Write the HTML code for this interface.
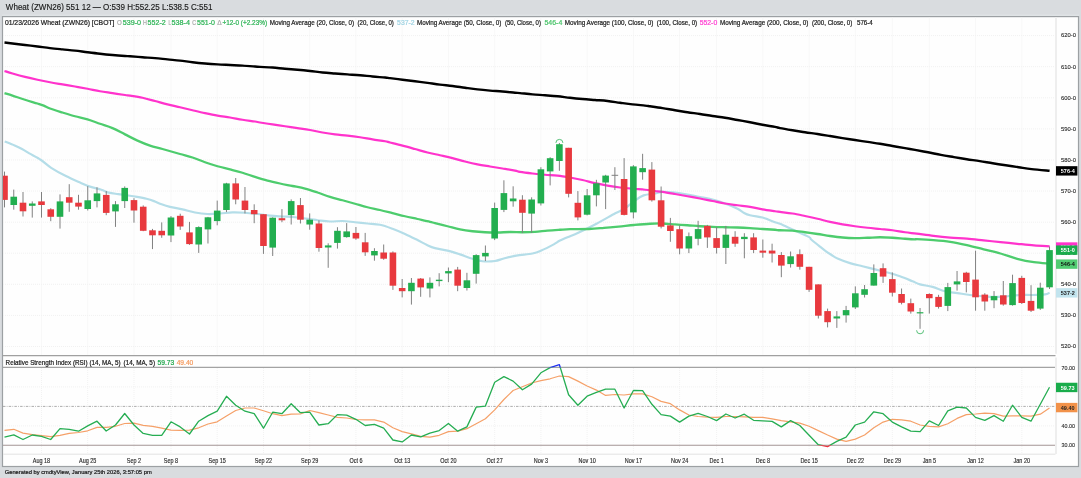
<!DOCTYPE html><html><head><meta charset="utf-8"><style>html,body{margin:0;padding:0;width:1081px;height:478px;overflow:hidden;background:#d9dcdf}svg text{font-family:"Liberation Sans",sans-serif} svg{will-change:transform}</style></head><body><svg width="1081" height="478" viewBox="0 0 1081 478" style="position:absolute;left:0;top:0"><rect x="0" y="0" width="1081" height="478" fill="#d9dcdf"/><text x="5.85" y="10.3" font-size="8.3" fill="#1a1a1a" stroke="#1a1a1a" stroke-width="0.15" textLength="206.6" lengthAdjust="spacingAndGlyphs">Wheat (ZWN26) 551 12 — O:539 H:552.25 L:538.5 C:551</text><line x1="2" y1="15.2" x2="1079" y2="15.2" stroke="#e3e6e8" stroke-width="1"/><rect x="2.5" y="16.6" width="1076" height="449.9" fill="#fefefe" stroke="#9ca0a3" stroke-width="1.2"/><line x1="3" y1="35.6" x2="1055" y2="35.6" stroke="#f1f1f1" stroke-width="1" stroke-dasharray="1,1"/><line x1="3" y1="66.7" x2="1055" y2="66.7" stroke="#f1f1f1" stroke-width="1" stroke-dasharray="1,1"/><line x1="3" y1="97.8" x2="1055" y2="97.8" stroke="#f1f1f1" stroke-width="1" stroke-dasharray="1,1"/><line x1="3" y1="128.9" x2="1055" y2="128.9" stroke="#f1f1f1" stroke-width="1" stroke-dasharray="1,1"/><line x1="3" y1="160.0" x2="1055" y2="160.0" stroke="#f1f1f1" stroke-width="1" stroke-dasharray="1,1"/><line x1="3" y1="191.1" x2="1055" y2="191.1" stroke="#f1f1f1" stroke-width="1" stroke-dasharray="1,1"/><line x1="3" y1="222.2" x2="1055" y2="222.2" stroke="#f1f1f1" stroke-width="1" stroke-dasharray="1,1"/><line x1="3" y1="253.2" x2="1055" y2="253.2" stroke="#f1f1f1" stroke-width="1" stroke-dasharray="1,1"/><line x1="3" y1="284.3" x2="1055" y2="284.3" stroke="#f1f1f1" stroke-width="1" stroke-dasharray="1,1"/><line x1="3" y1="315.4" x2="1055" y2="315.4" stroke="#f1f1f1" stroke-width="1" stroke-dasharray="1,1"/><line x1="3" y1="346.5" x2="1055" y2="346.5" stroke="#f1f1f1" stroke-width="1" stroke-dasharray="1,1"/><line x1="41.5" y1="17.5" x2="41.5" y2="355" stroke="#f2f2f2" stroke-width="1" stroke-dasharray="1,1"/><line x1="41.5" y1="368" x2="41.5" y2="455.5" stroke="#f2f2f2" stroke-width="1" stroke-dasharray="1,1"/><line x1="87.7" y1="17.5" x2="87.7" y2="355" stroke="#f2f2f2" stroke-width="1" stroke-dasharray="1,1"/><line x1="87.7" y1="368" x2="87.7" y2="455.5" stroke="#f2f2f2" stroke-width="1" stroke-dasharray="1,1"/><line x1="134.0" y1="17.5" x2="134.0" y2="355" stroke="#f2f2f2" stroke-width="1" stroke-dasharray="1,1"/><line x1="134.0" y1="368" x2="134.0" y2="455.5" stroke="#f2f2f2" stroke-width="1" stroke-dasharray="1,1"/><line x1="171.0" y1="17.5" x2="171.0" y2="355" stroke="#f2f2f2" stroke-width="1" stroke-dasharray="1,1"/><line x1="171.0" y1="368" x2="171.0" y2="455.5" stroke="#f2f2f2" stroke-width="1" stroke-dasharray="1,1"/><line x1="217.2" y1="17.5" x2="217.2" y2="355" stroke="#f2f2f2" stroke-width="1" stroke-dasharray="1,1"/><line x1="217.2" y1="368" x2="217.2" y2="455.5" stroke="#f2f2f2" stroke-width="1" stroke-dasharray="1,1"/><line x1="263.5" y1="17.5" x2="263.5" y2="355" stroke="#f2f2f2" stroke-width="1" stroke-dasharray="1,1"/><line x1="263.5" y1="368" x2="263.5" y2="455.5" stroke="#f2f2f2" stroke-width="1" stroke-dasharray="1,1"/><line x1="309.7" y1="17.5" x2="309.7" y2="355" stroke="#f2f2f2" stroke-width="1" stroke-dasharray="1,1"/><line x1="309.7" y1="368" x2="309.7" y2="455.5" stroke="#f2f2f2" stroke-width="1" stroke-dasharray="1,1"/><line x1="355.9" y1="17.5" x2="355.9" y2="355" stroke="#f2f2f2" stroke-width="1" stroke-dasharray="1,1"/><line x1="355.9" y1="368" x2="355.9" y2="455.5" stroke="#f2f2f2" stroke-width="1" stroke-dasharray="1,1"/><line x1="402.2" y1="17.5" x2="402.2" y2="355" stroke="#f2f2f2" stroke-width="1" stroke-dasharray="1,1"/><line x1="402.2" y1="368" x2="402.2" y2="455.5" stroke="#f2f2f2" stroke-width="1" stroke-dasharray="1,1"/><line x1="448.4" y1="17.5" x2="448.4" y2="355" stroke="#f2f2f2" stroke-width="1" stroke-dasharray="1,1"/><line x1="448.4" y1="368" x2="448.4" y2="455.5" stroke="#f2f2f2" stroke-width="1" stroke-dasharray="1,1"/><line x1="494.7" y1="17.5" x2="494.7" y2="355" stroke="#f2f2f2" stroke-width="1" stroke-dasharray="1,1"/><line x1="494.7" y1="368" x2="494.7" y2="455.5" stroke="#f2f2f2" stroke-width="1" stroke-dasharray="1,1"/><line x1="540.9" y1="17.5" x2="540.9" y2="355" stroke="#f2f2f2" stroke-width="1" stroke-dasharray="1,1"/><line x1="540.9" y1="368" x2="540.9" y2="455.5" stroke="#f2f2f2" stroke-width="1" stroke-dasharray="1,1"/><line x1="587.1" y1="17.5" x2="587.1" y2="355" stroke="#f2f2f2" stroke-width="1" stroke-dasharray="1,1"/><line x1="587.1" y1="368" x2="587.1" y2="455.5" stroke="#f2f2f2" stroke-width="1" stroke-dasharray="1,1"/><line x1="633.4" y1="17.5" x2="633.4" y2="355" stroke="#f2f2f2" stroke-width="1" stroke-dasharray="1,1"/><line x1="633.4" y1="368" x2="633.4" y2="455.5" stroke="#f2f2f2" stroke-width="1" stroke-dasharray="1,1"/><line x1="679.6" y1="17.5" x2="679.6" y2="355" stroke="#f2f2f2" stroke-width="1" stroke-dasharray="1,1"/><line x1="679.6" y1="368" x2="679.6" y2="455.5" stroke="#f2f2f2" stroke-width="1" stroke-dasharray="1,1"/><line x1="716.6" y1="17.5" x2="716.6" y2="355" stroke="#f2f2f2" stroke-width="1" stroke-dasharray="1,1"/><line x1="716.6" y1="368" x2="716.6" y2="455.5" stroke="#f2f2f2" stroke-width="1" stroke-dasharray="1,1"/><line x1="762.8" y1="17.5" x2="762.8" y2="355" stroke="#f2f2f2" stroke-width="1" stroke-dasharray="1,1"/><line x1="762.8" y1="368" x2="762.8" y2="455.5" stroke="#f2f2f2" stroke-width="1" stroke-dasharray="1,1"/><line x1="809.1" y1="17.5" x2="809.1" y2="355" stroke="#f2f2f2" stroke-width="1" stroke-dasharray="1,1"/><line x1="809.1" y1="368" x2="809.1" y2="455.5" stroke="#f2f2f2" stroke-width="1" stroke-dasharray="1,1"/><line x1="855.3" y1="17.5" x2="855.3" y2="355" stroke="#f2f2f2" stroke-width="1" stroke-dasharray="1,1"/><line x1="855.3" y1="368" x2="855.3" y2="455.5" stroke="#f2f2f2" stroke-width="1" stroke-dasharray="1,1"/><line x1="892.3" y1="17.5" x2="892.3" y2="355" stroke="#f2f2f2" stroke-width="1" stroke-dasharray="1,1"/><line x1="892.3" y1="368" x2="892.3" y2="455.5" stroke="#f2f2f2" stroke-width="1" stroke-dasharray="1,1"/><line x1="929.3" y1="17.5" x2="929.3" y2="355" stroke="#f2f2f2" stroke-width="1" stroke-dasharray="1,1"/><line x1="929.3" y1="368" x2="929.3" y2="455.5" stroke="#f2f2f2" stroke-width="1" stroke-dasharray="1,1"/><line x1="975.5" y1="17.5" x2="975.5" y2="355" stroke="#f2f2f2" stroke-width="1" stroke-dasharray="1,1"/><line x1="975.5" y1="368" x2="975.5" y2="455.5" stroke="#f2f2f2" stroke-width="1" stroke-dasharray="1,1"/><line x1="1021.8" y1="17.5" x2="1021.8" y2="355" stroke="#f2f2f2" stroke-width="1" stroke-dasharray="1,1"/><line x1="1021.8" y1="368" x2="1021.8" y2="455.5" stroke="#f2f2f2" stroke-width="1" stroke-dasharray="1,1"/><line x1="3" y1="386.9" x2="1055" y2="386.9" stroke="#f1f1f1" stroke-width="1" stroke-dasharray="1,1"/><line x1="3" y1="425.9" x2="1055" y2="425.9" stroke="#f1f1f1" stroke-width="1" stroke-dasharray="1,1"/><line x1="3" y1="406.4" x2="1055" y2="406.4" stroke="#8a8a8a" stroke-width="0.7" stroke-dasharray="2.5,1.2,0.8,1.2"/><line x1="3" y1="367.4" x2="1055.5" y2="367.4" stroke="#a3a3a3" stroke-width="1.3"/><line x1="3" y1="445.3" x2="1055.5" y2="445.3" stroke="#a39595" stroke-width="1.1"/><line x1="3" y1="355.6" x2="1055.5" y2="355.6" stroke="#a0a0a0" stroke-width="1.2"/><line x1="3" y1="454.2" x2="1055.5" y2="454.2" stroke="#ebebeb" stroke-width="1.5"/><line x1="1056" y1="17" x2="1056" y2="353.8" stroke="#eeeeee" stroke-width="2"/><line x1="1056" y1="357.4" x2="1056" y2="454" stroke="#eeeeee" stroke-width="2"/><defs><clipPath id="pc"><rect x="3" y="17" width="1052.5" height="338"/></clipPath><clipPath id="rc"><rect x="3" y="356.5" width="1052.5" height="97"/></clipPath></defs><g clip-path="url(#pc)"><path d="M4.70,141.40 C6.35,142.07 11.72,144.13 14.60,145.40 C17.48,146.67 19.55,147.67 22.00,149.00 C24.45,150.33 26.13,151.57 29.30,153.40 C32.47,155.23 37.35,157.60 41.00,160.00 C44.65,162.40 47.05,165.12 51.20,167.80 C55.35,170.48 61.02,173.62 65.90,176.10 C70.78,178.58 76.48,180.95 80.50,182.70 C84.52,184.45 86.53,185.42 90.00,186.60 C93.47,187.78 98.17,188.80 101.30,189.80 C104.43,190.80 105.98,191.88 108.80,192.60 C111.62,193.32 115.05,193.63 118.20,194.10 C121.35,194.57 124.55,194.93 127.70,195.40 C130.85,195.87 133.97,196.33 137.10,196.90 C140.23,197.47 143.68,198.10 146.50,198.80 C149.32,199.50 151.48,200.18 154.00,201.10 C156.52,202.02 158.93,203.33 161.60,204.30 C164.27,205.27 166.52,206.05 170.00,206.90 C173.48,207.75 178.33,208.47 182.50,209.40 C186.67,210.33 190.83,211.73 195.00,212.50 C199.17,213.27 203.33,213.83 207.50,214.00 C211.67,214.17 215.83,213.77 220.00,213.50 C224.17,213.23 228.33,212.53 232.50,212.40 C236.67,212.28 240.83,212.48 245.00,212.75 C249.17,213.02 253.33,213.53 257.50,214.00 C261.67,214.47 265.83,215.18 270.00,215.60 C274.17,216.02 278.33,216.22 282.50,216.50 C286.67,216.78 289.17,216.62 295.00,217.25 C300.83,217.88 311.67,219.54 317.50,220.25 C323.33,220.96 325.83,221.38 330.00,221.50 C334.17,221.62 338.33,220.88 342.50,221.00 C346.67,221.12 350.83,221.83 355.00,222.25 C359.17,222.67 363.33,223.08 367.50,223.50 C371.67,223.92 375.83,223.88 380.00,224.75 C384.17,225.62 388.33,227.21 392.50,228.75 C396.67,230.29 400.83,232.11 405.00,234.00 C409.17,235.89 413.83,238.27 417.50,240.10 C421.17,241.93 424.08,243.67 427.00,245.00 C429.92,246.33 431.58,247.17 435.00,248.10 C438.42,249.03 443.33,249.55 447.50,250.60 C451.67,251.65 455.83,253.04 460.00,254.40 C464.17,255.76 468.75,257.61 472.50,258.75 C476.25,259.89 478.75,260.88 482.50,261.25 C486.25,261.62 491.46,261.46 495.00,261.00 C498.54,260.54 500.21,259.40 503.75,258.50 C507.29,257.60 511.46,256.43 516.25,255.60 C521.04,254.77 528.33,254.33 532.50,253.50 C536.67,252.67 537.71,252.12 541.25,250.60 C544.79,249.08 550.62,246.07 553.75,244.40 C556.88,242.73 557.27,241.96 560.00,240.60 C562.73,239.24 567.15,237.50 570.10,236.25 C573.05,235.00 573.30,235.19 577.70,233.10 C582.10,231.01 590.23,227.00 596.50,223.70 C602.77,220.40 610.60,215.82 615.30,213.30 C620.00,210.78 621.55,210.63 624.70,208.60 C627.85,206.57 631.05,203.30 634.20,201.10 C637.35,198.90 640.13,196.67 643.60,195.40 C647.07,194.13 651.85,194.10 655.00,193.50 C658.15,192.90 659.17,191.97 662.50,191.80 C665.83,191.63 670.83,192.03 675.00,192.50 C679.17,192.97 683.33,193.85 687.50,194.60 C691.67,195.35 695.83,196.17 700.00,197.00 C704.17,197.83 708.33,198.52 712.50,199.60 C716.67,200.68 720.83,201.97 725.00,203.50 C729.17,205.03 734.38,207.21 737.50,208.75 C740.62,210.29 741.67,211.68 743.75,212.75 C745.83,213.82 746.88,214.41 750.00,215.20 C753.12,215.99 759.38,216.74 762.50,217.50 C765.62,218.26 766.67,218.96 768.75,219.75 C770.83,220.54 773.12,221.58 775.00,222.25 C776.88,222.92 777.08,222.56 780.00,223.75 C782.92,224.94 787.71,227.21 792.50,229.40 C797.29,231.59 805.62,235.22 808.75,236.90 C811.88,238.58 809.58,238.05 811.25,239.50 C812.92,240.95 816.46,243.75 818.75,245.60 C821.04,247.45 822.92,249.07 825.00,250.60 C827.08,252.12 829.17,253.43 831.25,254.75 C833.33,256.07 834.38,257.11 837.50,258.50 C840.62,259.89 845.83,261.81 850.00,263.10 C854.17,264.39 858.33,265.20 862.50,266.25 C866.67,267.30 870.83,268.36 875.00,269.40 C879.17,270.44 883.33,271.36 887.50,272.50 C891.67,273.64 895.83,274.79 900.00,276.25 C904.17,277.71 909.17,279.89 912.50,281.25 C915.83,282.61 916.67,283.46 920.00,284.40 C923.33,285.34 928.33,285.76 932.50,286.90 C936.67,288.04 940.83,290.22 945.00,291.25 C949.17,292.28 953.33,292.48 957.50,293.10 C961.67,293.73 965.83,294.48 970.00,295.00 C974.17,295.52 978.33,295.93 982.50,296.25 C986.67,296.57 990.83,296.90 995.00,296.90 C999.17,296.90 1003.33,296.57 1007.50,296.25 C1011.67,295.93 1015.83,295.21 1020.00,295.00 C1024.17,294.79 1028.33,295.10 1032.50,295.00 C1036.67,294.90 1042.15,294.77 1045.00,294.40 C1047.85,294.02 1048.83,293.02 1049.60,292.75" fill="none" stroke="#b4dde8" stroke-width="2.2" stroke-linejoin="round" stroke-linecap="butt"/><path d="M4.50,93.10 C5.83,93.52 9.08,94.49 12.50,95.60 C15.92,96.71 20.83,98.43 25.00,99.75 C29.17,101.07 34.38,102.53 37.50,103.50 C40.62,104.47 41.67,104.77 43.75,105.60 C45.83,106.43 46.88,107.35 50.00,108.50 C53.12,109.65 58.33,111.21 62.50,112.50 C66.67,113.79 70.83,115.10 75.00,116.25 C79.17,117.40 83.33,118.15 87.50,119.40 C91.67,120.65 95.83,122.30 100.00,123.75 C104.17,125.20 108.33,126.32 112.50,128.10 C116.67,129.88 120.83,132.32 125.00,134.40 C129.17,136.48 133.33,138.73 137.50,140.60 C141.67,142.47 145.83,144.20 150.00,145.60 C154.17,147.00 157.50,147.60 162.50,149.00 C167.50,150.40 175.00,152.58 180.00,154.00 C185.00,155.42 188.33,156.12 192.50,157.50 C196.67,158.88 200.83,160.79 205.00,162.25 C209.17,163.71 213.33,165.06 217.50,166.25 C221.67,167.44 225.83,168.32 230.00,169.40 C234.17,170.48 238.33,171.50 242.50,172.75 C246.67,174.00 250.83,175.59 255.00,176.90 C259.17,178.21 263.33,179.50 267.50,180.60 C271.67,181.70 275.83,182.60 280.00,183.50 C284.17,184.40 288.33,185.15 292.50,186.00 C296.67,186.85 300.83,187.52 305.00,188.60 C309.17,189.68 313.33,191.12 317.50,192.50 C321.67,193.88 325.83,195.61 330.00,196.90 C334.17,198.19 338.33,199.11 342.50,200.25 C346.67,201.39 350.83,202.58 355.00,203.75 C359.17,204.92 363.33,206.21 367.50,207.25 C371.67,208.29 375.83,209.03 380.00,210.00 C384.17,210.97 388.33,212.06 392.50,213.10 C396.67,214.14 400.83,215.27 405.00,216.25 C409.17,217.23 413.33,218.07 417.50,219.00 C421.67,219.93 427.08,221.10 430.00,221.80 C432.92,222.50 432.08,222.46 435.00,223.20 C437.92,223.94 443.33,225.22 447.50,226.25 C451.67,227.28 455.83,228.57 460.00,229.40 C464.17,230.23 468.33,230.78 472.50,231.25 C476.67,231.72 480.83,232.04 485.00,232.25 C489.17,232.46 493.33,232.54 497.50,232.50 C501.67,232.46 505.83,232.04 510.00,232.00 C514.17,231.96 518.33,232.27 522.50,232.25 C526.67,232.23 530.83,232.18 535.00,231.90 C539.17,231.62 543.33,230.96 547.50,230.60 C551.67,230.24 556.23,229.98 560.00,229.75 C563.77,229.52 565.27,229.32 570.10,229.20 C574.93,229.07 583.35,229.22 589.00,229.00 C594.65,228.78 599.07,228.30 604.00,227.90 C608.93,227.50 613.57,227.08 618.60,226.60 C623.63,226.12 628.97,225.47 634.20,225.00 C639.43,224.53 645.28,224.00 650.00,223.75 C654.72,223.50 658.33,223.39 662.50,223.50 C666.67,223.61 670.83,224.11 675.00,224.40 C679.17,224.69 683.33,224.94 687.50,225.25 C691.67,225.56 695.83,225.97 700.00,226.25 C704.17,226.53 708.33,226.73 712.50,226.90 C716.67,227.07 720.83,227.15 725.00,227.25 C729.17,227.35 733.33,227.36 737.50,227.50 C741.67,227.64 745.83,227.85 750.00,228.10 C754.17,228.35 758.33,228.72 762.50,229.00 C766.67,229.28 772.08,229.54 775.00,229.75 C777.92,229.96 777.08,230.11 780.00,230.25 C782.92,230.39 788.33,230.27 792.50,230.60 C796.67,230.93 800.83,231.68 805.00,232.25 C809.17,232.82 813.33,233.38 817.50,234.00 C821.67,234.62 825.83,235.42 830.00,236.00 C834.17,236.58 838.33,237.15 842.50,237.50 C846.67,237.85 850.83,238.06 855.00,238.10 C859.17,238.14 863.33,237.89 867.50,237.75 C871.67,237.61 875.83,237.25 880.00,237.25 C884.17,237.25 888.33,237.50 892.50,237.75 C896.67,238.00 901.23,238.47 905.00,238.75 C908.77,239.03 913.15,239.33 915.10,239.40 C917.05,239.47 913.63,239.08 916.70,239.20 C919.77,239.32 927.92,239.67 933.50,240.10 C939.08,240.53 944.63,240.97 950.20,241.80 C955.77,242.63 961.32,243.85 966.90,245.10 C972.48,246.35 978.12,247.90 983.70,249.30 C989.28,250.70 994.82,251.92 1000.40,253.50 C1005.98,255.08 1011.62,257.35 1017.20,258.80 C1022.78,260.25 1028.50,261.40 1033.90,262.20 C1039.30,263.00 1046.98,263.37 1049.60,263.60" fill="none" stroke="#4dcc6d" stroke-width="2.3" stroke-linejoin="round" stroke-linecap="butt"/><path d="M4.50,71.00 C5.83,71.42 9.08,72.52 12.50,73.50 C15.92,74.48 20.83,75.86 25.00,76.90 C29.17,77.94 33.33,78.86 37.50,79.75 C41.67,80.64 45.83,81.47 50.00,82.25 C54.17,83.03 58.33,83.69 62.50,84.40 C66.67,85.11 70.83,85.78 75.00,86.50 C79.17,87.22 83.33,87.96 87.50,88.75 C91.67,89.54 95.83,90.53 100.00,91.25 C104.17,91.97 108.33,92.47 112.50,93.10 C116.67,93.72 122.08,94.58 125.00,95.00 C127.92,95.42 127.08,95.14 130.00,95.60 C132.92,96.06 138.33,96.85 142.50,97.75 C146.67,98.65 150.83,99.89 155.00,101.00 C159.17,102.11 163.33,103.36 167.50,104.40 C171.67,105.44 175.83,106.28 180.00,107.25 C184.17,108.22 188.33,109.28 192.50,110.25 C196.67,111.22 200.83,112.21 205.00,113.10 C209.17,113.99 213.33,114.87 217.50,115.60 C221.67,116.33 225.83,116.81 230.00,117.50 C234.17,118.19 238.33,119.08 242.50,119.75 C246.67,120.42 252.08,121.04 255.00,121.50 C257.92,121.96 257.08,122.02 260.00,122.50 C262.92,122.98 268.33,123.78 272.50,124.40 C276.67,125.03 280.83,125.63 285.00,126.25 C289.17,126.87 293.33,127.47 297.50,128.10 C301.67,128.72 305.83,129.27 310.00,130.00 C314.17,130.73 318.33,131.77 322.50,132.50 C326.67,133.23 330.83,133.88 335.00,134.40 C339.17,134.92 343.33,135.12 347.50,135.60 C351.67,136.07 355.83,136.62 360.00,137.25 C364.17,137.88 368.33,138.73 372.50,139.40 C376.67,140.07 382.08,140.73 385.00,141.25 C387.92,141.77 387.08,141.78 390.00,142.50 C392.92,143.22 398.33,144.52 402.50,145.60 C406.67,146.68 410.83,147.85 415.00,149.00 C419.17,150.15 423.33,151.46 427.50,152.50 C431.67,153.54 435.83,154.32 440.00,155.25 C444.17,156.18 448.33,157.06 452.50,158.10 C456.67,159.14 460.83,160.45 465.00,161.50 C469.17,162.55 473.33,163.57 477.50,164.40 C481.67,165.23 485.83,165.82 490.00,166.50 C494.17,167.18 498.33,167.82 502.50,168.50 C506.67,169.18 512.08,170.03 515.00,170.60 C517.92,171.17 517.08,171.42 520.00,171.90 C522.92,172.38 528.33,173.03 532.50,173.50 C536.67,173.97 540.83,174.40 545.00,174.75 C549.17,175.10 553.33,175.14 557.50,175.60 C561.67,176.06 565.83,176.77 570.00,177.50 C574.17,178.23 578.33,179.07 582.50,180.00 C586.67,180.93 590.83,182.17 595.00,183.10 C599.17,184.03 603.33,184.87 607.50,185.60 C611.67,186.33 615.83,186.97 620.00,187.50 C624.17,188.03 628.33,188.38 632.50,188.75 C636.67,189.12 641.25,189.38 645.00,189.75 C648.75,190.12 652.08,190.64 655.00,191.00 C657.92,191.36 659.17,191.40 662.50,191.90 C665.83,192.40 670.83,193.28 675.00,194.00 C679.17,194.72 683.33,195.50 687.50,196.25 C691.67,197.00 695.83,197.71 700.00,198.50 C704.17,199.29 708.33,200.17 712.50,201.00 C716.67,201.83 720.83,202.79 725.00,203.50 C729.17,204.21 733.33,204.68 737.50,205.25 C741.67,205.82 745.83,206.21 750.00,206.90 C754.17,207.59 758.33,208.68 762.50,209.40 C766.67,210.12 772.08,210.83 775.00,211.25 C777.92,211.67 777.08,211.53 780.00,211.90 C782.92,212.28 788.33,212.82 792.50,213.50 C796.67,214.18 800.83,215.12 805.00,216.00 C809.17,216.88 813.33,217.77 817.50,218.75 C821.67,219.73 825.83,220.96 830.00,221.90 C834.17,222.84 838.33,223.68 842.50,224.40 C846.67,225.12 850.83,225.69 855.00,226.25 C859.17,226.81 863.33,227.29 867.50,227.75 C871.67,228.21 875.83,228.58 880.00,229.00 C884.17,229.42 888.33,229.71 892.50,230.25 C896.67,230.79 900.97,231.68 905.00,232.25 C909.03,232.82 911.95,233.09 916.70,233.70 C921.45,234.31 927.92,235.25 933.50,235.90 C939.08,236.55 944.63,237.13 950.20,237.60 C955.77,238.07 961.32,238.23 966.90,238.70 C972.48,239.17 978.12,239.83 983.70,240.40 C989.28,240.97 994.82,241.53 1000.40,242.10 C1005.98,242.67 1011.62,243.25 1017.20,243.80 C1022.78,244.35 1028.50,244.97 1033.90,245.40 C1039.30,245.83 1046.98,246.23 1049.60,246.40" fill="none" stroke="#ff33cc" stroke-width="2.25" stroke-linejoin="round" stroke-linecap="butt"/><path d="M4.50,42.50 C5.83,42.67 9.08,43.08 12.50,43.50 C15.92,43.92 20.83,44.50 25.00,45.00 C29.17,45.50 33.33,45.98 37.50,46.50 C41.67,47.02 45.83,47.62 50.00,48.10 C54.17,48.58 58.33,48.98 62.50,49.40 C66.67,49.82 70.83,50.12 75.00,50.60 C79.17,51.08 83.33,51.73 87.50,52.25 C91.67,52.77 95.83,53.29 100.00,53.75 C104.17,54.21 108.33,54.62 112.50,55.00 C116.67,55.38 122.08,55.79 125.00,56.00 C127.92,56.21 127.08,56.04 130.00,56.25 C132.92,56.46 138.33,56.94 142.50,57.25 C146.67,57.56 150.83,57.74 155.00,58.10 C159.17,58.46 163.33,58.98 167.50,59.40 C171.67,59.82 175.83,60.12 180.00,60.60 C184.17,61.08 188.33,61.77 192.50,62.25 C196.67,62.73 200.83,63.14 205.00,63.50 C209.17,63.86 213.33,64.15 217.50,64.40 C221.67,64.65 225.83,64.80 230.00,65.00 C234.17,65.20 238.33,65.35 242.50,65.60 C246.67,65.85 252.08,66.28 255.00,66.50 C257.92,66.72 257.08,66.73 260.00,66.90 C262.92,67.07 268.33,67.19 272.50,67.50 C276.67,67.81 280.83,68.38 285.00,68.75 C289.17,69.12 293.33,69.38 297.50,69.75 C301.67,70.12 305.83,70.54 310.00,71.00 C314.17,71.46 318.33,72.08 322.50,72.50 C326.67,72.92 330.83,73.18 335.00,73.50 C339.17,73.82 343.33,74.11 347.50,74.40 C351.67,74.69 355.83,74.90 360.00,75.25 C364.17,75.60 368.33,76.12 372.50,76.50 C376.67,76.88 382.08,77.23 385.00,77.50 C387.92,77.77 387.08,77.72 390.00,78.10 C392.92,78.47 398.33,79.22 402.50,79.75 C406.67,80.28 410.83,80.72 415.00,81.25 C419.17,81.78 423.33,82.34 427.50,82.90 C431.67,83.46 435.83,84.08 440.00,84.60 C444.17,85.12 448.33,85.47 452.50,86.00 C456.67,86.53 460.83,87.18 465.00,87.75 C469.17,88.32 473.33,88.93 477.50,89.40 C481.67,89.88 485.83,90.25 490.00,90.60 C494.17,90.95 498.33,91.14 502.50,91.50 C506.67,91.86 512.08,92.48 515.00,92.75 C517.92,93.02 517.08,92.82 520.00,93.10 C522.92,93.38 528.33,94.04 532.50,94.40 C536.67,94.76 540.83,94.94 545.00,95.25 C549.17,95.56 553.33,95.83 557.50,96.25 C561.67,96.67 565.83,97.29 570.00,97.75 C574.17,98.21 578.33,98.62 582.50,99.00 C586.67,99.38 590.83,99.67 595.00,100.00 C599.17,100.33 603.33,100.54 607.50,101.00 C611.67,101.46 615.83,102.18 620.00,102.75 C624.17,103.32 628.33,103.93 632.50,104.40 C636.67,104.88 642.08,105.29 645.00,105.60 C647.92,105.91 647.08,105.83 650.00,106.25 C652.92,106.67 658.33,107.43 662.50,108.10 C666.67,108.77 670.83,109.56 675.00,110.25 C679.17,110.94 683.33,111.62 687.50,112.25 C691.67,112.88 695.83,113.38 700.00,114.00 C704.17,114.62 708.33,115.38 712.50,116.00 C716.67,116.62 720.83,117.08 725.00,117.75 C729.17,118.42 733.33,119.25 737.50,120.00 C741.67,120.75 745.83,121.46 750.00,122.25 C754.17,123.04 758.33,123.97 762.50,124.75 C766.67,125.53 772.08,126.34 775.00,126.90 C777.92,127.46 777.08,127.54 780.00,128.10 C782.92,128.66 788.33,129.56 792.50,130.25 C796.67,130.94 800.83,131.62 805.00,132.25 C809.17,132.88 813.33,133.38 817.50,134.00 C821.67,134.62 825.83,135.32 830.00,136.00 C834.17,136.68 838.33,137.43 842.50,138.10 C846.67,138.77 850.83,139.37 855.00,140.00 C859.17,140.63 863.33,141.28 867.50,141.90 C871.67,142.53 875.83,143.07 880.00,143.75 C884.17,144.43 888.33,145.28 892.50,146.00 C896.67,146.72 901.25,147.45 905.00,148.10 C908.75,148.75 911.17,149.20 915.00,149.90 C918.83,150.60 923.68,151.47 928.00,152.30 C932.32,153.13 936.58,154.10 940.90,154.90 C945.22,155.70 949.58,156.38 953.90,157.10 C958.22,157.82 962.48,158.53 966.80,159.20 C971.12,159.87 975.48,160.42 979.80,161.10 C984.12,161.78 988.38,162.60 992.70,163.30 C997.02,164.00 1001.38,164.65 1005.70,165.30 C1010.02,165.95 1014.28,166.57 1018.60,167.20 C1022.92,167.83 1026.43,168.50 1031.60,169.10 C1036.77,169.70 1046.60,170.52 1049.60,170.80" fill="none" stroke="#000" stroke-width="2.4" stroke-linejoin="round" stroke-linecap="butt"/><line x1="4.51" y1="171.6" x2="4.51" y2="207.4" stroke="#808080" stroke-width="1"/><rect x="1.21" y="175.7" width="6.6" height="24.20" fill="#e8393e"/><line x1="13.76" y1="189.6" x2="13.76" y2="209.7" stroke="#808080" stroke-width="1"/><rect x="10.46" y="196.7" width="6.6" height="8.30" fill="#22ae4f"/><line x1="23.00" y1="192.0" x2="23.00" y2="216.5" stroke="#808080" stroke-width="1"/><rect x="19.70" y="202.7" width="6.6" height="8.60" fill="#e8393e"/><line x1="32.25" y1="201.4" x2="32.25" y2="217.6" stroke="#808080" stroke-width="1"/><rect x="28.95" y="203.5" width="6.6" height="2.30" fill="#22ae4f"/><line x1="41.50" y1="192.0" x2="41.50" y2="217.6" stroke="#808080" stroke-width="1"/><rect x="38.20" y="201.4" width="6.6" height="3.60" fill="#e8393e"/><line x1="50.75" y1="208.2" x2="50.75" y2="221.2" stroke="#808080" stroke-width="1"/><rect x="47.45" y="209.3" width="6.6" height="7.50" fill="#e8393e"/><line x1="60.00" y1="194.4" x2="60.00" y2="228.6" stroke="#808080" stroke-width="1"/><rect x="56.70" y="201.4" width="6.6" height="15.40" fill="#22ae4f"/><line x1="69.24" y1="184.2" x2="69.24" y2="211.8" stroke="#808080" stroke-width="1"/><rect x="65.94" y="197.2" width="6.6" height="5.50" fill="#e8393e"/><line x1="78.49" y1="194.8" x2="78.49" y2="209.7" stroke="#808080" stroke-width="1"/><rect x="75.19" y="202.7" width="6.6" height="3.90" fill="#e8393e"/><line x1="87.74" y1="186.2" x2="87.74" y2="210.5" stroke="#808080" stroke-width="1"/><rect x="84.44" y="200.3" width="6.6" height="8.70" fill="#22ae4f"/><line x1="96.99" y1="187.3" x2="96.99" y2="207.4" stroke="#808080" stroke-width="1"/><rect x="93.69" y="193.4" width="6.6" height="7.70" fill="#22ae4f"/><line x1="106.24" y1="191.1" x2="106.24" y2="215.2" stroke="#808080" stroke-width="1"/><rect x="102.94" y="194.9" width="6.6" height="18.00" fill="#e8393e"/><line x1="115.48" y1="201.1" x2="115.48" y2="226.9" stroke="#808080" stroke-width="1"/><rect x="112.18" y="204.3" width="6.6" height="7.10" fill="#22ae4f"/><line x1="124.73" y1="186.4" x2="124.73" y2="208.0" stroke="#808080" stroke-width="1"/><rect x="121.43" y="187.9" width="6.6" height="13.20" fill="#22ae4f"/><line x1="133.98" y1="198.2" x2="133.98" y2="222.7" stroke="#808080" stroke-width="1"/><rect x="130.68" y="200.1" width="6.6" height="10.40" fill="#e8393e"/><line x1="143.23" y1="205.4" x2="143.23" y2="231.2" stroke="#808080" stroke-width="1"/><rect x="139.93" y="206.7" width="6.6" height="24.10" fill="#e8393e"/><line x1="152.48" y1="228.9" x2="152.48" y2="249.1" stroke="#808080" stroke-width="1"/><rect x="149.18" y="230.3" width="6.6" height="5.00" fill="#e8393e"/><line x1="161.72" y1="222.4" x2="161.72" y2="237.8" stroke="#808080" stroke-width="1"/><rect x="158.42" y="230.8" width="6.6" height="4.50" fill="#e8393e"/><line x1="170.97" y1="216.1" x2="170.97" y2="242.1" stroke="#808080" stroke-width="1"/><rect x="167.67" y="217.5" width="6.6" height="18.00" fill="#22ae4f"/><line x1="180.22" y1="213.7" x2="180.22" y2="229.9" stroke="#808080" stroke-width="1"/><rect x="176.92" y="215.8" width="6.6" height="10.70" fill="#e8393e"/><line x1="189.47" y1="221.9" x2="189.47" y2="244.9" stroke="#808080" stroke-width="1"/><rect x="186.17" y="232.4" width="6.6" height="11.70" fill="#e8393e"/><line x1="198.72" y1="226.3" x2="198.72" y2="252.9" stroke="#808080" stroke-width="1"/><rect x="195.42" y="227.1" width="6.6" height="17.40" fill="#22ae4f"/><line x1="207.96" y1="216.9" x2="207.96" y2="243.5" stroke="#808080" stroke-width="1"/><rect x="204.66" y="217.3" width="6.6" height="12.10" fill="#22ae4f"/><line x1="217.21" y1="200.6" x2="217.21" y2="225.3" stroke="#808080" stroke-width="1"/><rect x="213.91" y="210.6" width="6.6" height="10.50" fill="#22ae4f"/><line x1="226.46" y1="182.8" x2="226.46" y2="212.1" stroke="#808080" stroke-width="1"/><rect x="223.16" y="183.4" width="6.6" height="26.60" fill="#22ae4f"/><line x1="235.71" y1="178.0" x2="235.71" y2="204.3" stroke="#808080" stroke-width="1"/><rect x="232.41" y="183.4" width="6.6" height="16.10" fill="#e8393e"/><line x1="244.96" y1="187.0" x2="244.96" y2="213.5" stroke="#808080" stroke-width="1"/><rect x="241.66" y="200.6" width="6.6" height="9.40" fill="#e8393e"/><line x1="254.20" y1="204.3" x2="254.20" y2="223.2" stroke="#808080" stroke-width="1"/><rect x="250.90" y="210.0" width="6.6" height="4.20" fill="#e8393e"/><line x1="263.45" y1="214.2" x2="263.45" y2="253.9" stroke="#808080" stroke-width="1"/><rect x="260.15" y="214.2" width="6.6" height="31.80" fill="#e8393e"/><line x1="272.70" y1="217.3" x2="272.70" y2="256.0" stroke="#808080" stroke-width="1"/><rect x="269.40" y="217.7" width="6.6" height="29.90" fill="#22ae4f"/><line x1="281.95" y1="209.1" x2="281.95" y2="222.2" stroke="#808080" stroke-width="1"/><rect x="278.65" y="218.2" width="6.6" height="2.10" fill="#e8393e"/><line x1="291.20" y1="199.4" x2="291.20" y2="224.5" stroke="#808080" stroke-width="1"/><rect x="287.90" y="201.1" width="6.6" height="14.00" fill="#22ae4f"/><line x1="300.44" y1="198.0" x2="300.44" y2="223.5" stroke="#808080" stroke-width="1"/><rect x="297.14" y="205.1" width="6.6" height="14.60" fill="#e8393e"/><line x1="309.69" y1="213.4" x2="309.69" y2="229.7" stroke="#808080" stroke-width="1"/><rect x="306.39" y="219.7" width="6.6" height="4.80" fill="#22ae4f"/><line x1="318.94" y1="220.3" x2="318.94" y2="251.7" stroke="#808080" stroke-width="1"/><rect x="315.64" y="223.5" width="6.6" height="24.50" fill="#e8393e"/><line x1="328.19" y1="243.3" x2="328.19" y2="267.8" stroke="#808080" stroke-width="1"/><rect x="324.89" y="245.4" width="6.6" height="2.10" fill="#22ae4f"/><line x1="337.44" y1="227.2" x2="337.44" y2="248.6" stroke="#808080" stroke-width="1"/><rect x="334.14" y="230.8" width="6.6" height="12.10" fill="#22ae4f"/><line x1="346.68" y1="223.1" x2="346.68" y2="237.7" stroke="#808080" stroke-width="1"/><rect x="343.38" y="231.4" width="6.6" height="5.70" fill="#22ae4f"/><line x1="355.93" y1="227.0" x2="355.93" y2="239.8" stroke="#808080" stroke-width="1"/><rect x="352.63" y="232.9" width="6.6" height="5.60" fill="#e8393e"/><line x1="365.18" y1="232.9" x2="365.18" y2="255.9" stroke="#808080" stroke-width="1"/><rect x="361.88" y="242.3" width="6.6" height="10.00" fill="#e8393e"/><line x1="374.43" y1="248.2" x2="374.43" y2="260.7" stroke="#808080" stroke-width="1"/><rect x="371.13" y="251.0" width="6.6" height="4.40" fill="#22ae4f"/><line x1="383.68" y1="244.5" x2="383.68" y2="259.8" stroke="#808080" stroke-width="1"/><rect x="380.38" y="252.5" width="6.6" height="6.20" fill="#e8393e"/><line x1="392.92" y1="251.4" x2="392.92" y2="289.9" stroke="#808080" stroke-width="1"/><rect x="389.62" y="252.5" width="6.6" height="33.20" fill="#e8393e"/><line x1="402.17" y1="279.0" x2="402.17" y2="297.4" stroke="#808080" stroke-width="1"/><rect x="398.87" y="288.0" width="6.6" height="3.20" fill="#e8393e"/><line x1="411.42" y1="278.0" x2="411.42" y2="304.6" stroke="#808080" stroke-width="1"/><rect x="408.12" y="282.8" width="6.6" height="8.40" fill="#22ae4f"/><line x1="420.67" y1="278.0" x2="420.67" y2="296.8" stroke="#808080" stroke-width="1"/><rect x="417.37" y="278.6" width="6.6" height="8.80" fill="#e8393e"/><line x1="429.92" y1="277.4" x2="429.92" y2="297.4" stroke="#808080" stroke-width="1"/><rect x="426.62" y="282.8" width="6.6" height="5.70" fill="#22ae4f"/><line x1="439.16" y1="273.2" x2="439.16" y2="286.4" stroke="#808080" stroke-width="1"/><rect x="435.86" y="279.7" width="6.6" height="1.40" fill="#22ae4f"/><line x1="448.41" y1="267.5" x2="448.41" y2="282.2" stroke="#808080" stroke-width="1"/><rect x="445.11" y="271.1" width="6.6" height="2.30" fill="#22ae4f"/><line x1="457.66" y1="266.9" x2="457.66" y2="291.2" stroke="#808080" stroke-width="1"/><rect x="454.36" y="269.6" width="6.6" height="16.10" fill="#e8393e"/><line x1="466.91" y1="272.8" x2="466.91" y2="290.5" stroke="#808080" stroke-width="1"/><rect x="463.61" y="280.3" width="6.6" height="7.70" fill="#22ae4f"/><line x1="476.16" y1="254.2" x2="476.16" y2="283.6" stroke="#808080" stroke-width="1"/><rect x="472.86" y="255.1" width="6.6" height="18.70" fill="#22ae4f"/><line x1="485.40" y1="245.5" x2="485.40" y2="261.0" stroke="#808080" stroke-width="1"/><rect x="482.10" y="252.9" width="6.6" height="3.50" fill="#22ae4f"/><line x1="494.65" y1="202.6" x2="494.65" y2="240.1" stroke="#808080" stroke-width="1"/><rect x="491.35" y="208.0" width="6.6" height="30.50" fill="#22ae4f"/><line x1="503.90" y1="180.3" x2="503.90" y2="212.1" stroke="#808080" stroke-width="1"/><rect x="500.60" y="193.1" width="6.6" height="16.80" fill="#22ae4f"/><line x1="513.15" y1="186.3" x2="513.15" y2="206.7" stroke="#808080" stroke-width="1"/><rect x="509.85" y="198.5" width="6.6" height="2.80" fill="#22ae4f"/><line x1="522.40" y1="195.2" x2="522.40" y2="233.0" stroke="#808080" stroke-width="1"/><rect x="519.10" y="199.7" width="6.6" height="13.10" fill="#e8393e"/><line x1="531.64" y1="197.3" x2="531.64" y2="233.0" stroke="#808080" stroke-width="1"/><rect x="528.34" y="199.5" width="6.6" height="14.10" fill="#22ae4f"/><line x1="540.89" y1="167.2" x2="540.89" y2="205.5" stroke="#808080" stroke-width="1"/><rect x="537.59" y="169.3" width="6.6" height="34.10" fill="#22ae4f"/><line x1="550.14" y1="157.2" x2="550.14" y2="185.4" stroke="#808080" stroke-width="1"/><rect x="546.84" y="158.2" width="6.6" height="13.20" fill="#22ae4f"/><line x1="559.39" y1="143.0" x2="559.39" y2="170.8" stroke="#808080" stroke-width="1"/><rect x="556.09" y="144.2" width="6.6" height="16.80" fill="#22ae4f"/><line x1="568.64" y1="147.8" x2="568.64" y2="197.4" stroke="#808080" stroke-width="1"/><rect x="565.34" y="147.8" width="6.6" height="46.00" fill="#e8393e"/><line x1="577.88" y1="191.1" x2="577.88" y2="220.4" stroke="#808080" stroke-width="1"/><rect x="574.58" y="202.8" width="6.6" height="14.60" fill="#e8393e"/><line x1="587.13" y1="189.0" x2="587.13" y2="215.4" stroke="#808080" stroke-width="1"/><rect x="583.83" y="195.3" width="6.6" height="19.40" fill="#22ae4f"/><line x1="596.38" y1="179.8" x2="596.38" y2="206.4" stroke="#808080" stroke-width="1"/><rect x="593.08" y="183.3" width="6.6" height="12.00" fill="#22ae4f"/><line x1="605.63" y1="174.8" x2="605.63" y2="209.1" stroke="#808080" stroke-width="1"/><rect x="602.33" y="175.6" width="6.6" height="6.90" fill="#22ae4f"/><line x1="614.88" y1="167.2" x2="614.88" y2="190.0" stroke="#808080" stroke-width="1"/><line x1="611.58" y1="175.3" x2="618.18" y2="175.3" stroke="#808080" stroke-width="1"/><line x1="624.12" y1="158.1" x2="624.12" y2="215.4" stroke="#808080" stroke-width="1"/><rect x="620.82" y="179.0" width="6.6" height="35.90" fill="#e8393e"/><line x1="633.37" y1="165.1" x2="633.37" y2="218.4" stroke="#808080" stroke-width="1"/><rect x="630.07" y="166.4" width="6.6" height="46.00" fill="#22ae4f"/><line x1="642.62" y1="153.8" x2="642.62" y2="179.7" stroke="#808080" stroke-width="1"/><rect x="639.32" y="168.1" width="6.6" height="4.10" fill="#22ae4f"/><line x1="651.87" y1="162.1" x2="651.87" y2="201.6" stroke="#808080" stroke-width="1"/><rect x="648.57" y="169.6" width="6.6" height="30.70" fill="#e8393e"/><line x1="661.12" y1="186.5" x2="661.12" y2="228.4" stroke="#808080" stroke-width="1"/><rect x="657.82" y="200.3" width="6.6" height="26.40" fill="#e8393e"/><line x1="670.36" y1="217.9" x2="670.36" y2="241.8" stroke="#808080" stroke-width="1"/><rect x="667.06" y="225.4" width="6.6" height="5.60" fill="#e8393e"/><line x1="679.61" y1="225.4" x2="679.61" y2="254.3" stroke="#808080" stroke-width="1"/><rect x="676.31" y="229.2" width="6.6" height="19.30" fill="#e8393e"/><line x1="688.86" y1="232.5" x2="688.86" y2="253.1" stroke="#808080" stroke-width="1"/><rect x="685.56" y="236.2" width="6.6" height="12.30" fill="#22ae4f"/><line x1="698.11" y1="220.8" x2="698.11" y2="245.3" stroke="#808080" stroke-width="1"/><rect x="694.81" y="229.1" width="6.6" height="9.70" fill="#22ae4f"/><line x1="707.36" y1="224.9" x2="707.36" y2="247.9" stroke="#808080" stroke-width="1"/><rect x="704.06" y="225.9" width="6.6" height="11.50" fill="#e8393e"/><line x1="716.60" y1="227.0" x2="716.60" y2="253.5" stroke="#808080" stroke-width="1"/><rect x="713.30" y="238.1" width="6.6" height="9.80" fill="#e8393e"/><line x1="725.85" y1="225.9" x2="725.85" y2="264.0" stroke="#808080" stroke-width="1"/><rect x="722.55" y="234.7" width="6.6" height="13.20" fill="#22ae4f"/><line x1="735.10" y1="231.2" x2="735.10" y2="246.8" stroke="#808080" stroke-width="1"/><rect x="731.80" y="236.8" width="6.6" height="6.90" fill="#e8393e"/><line x1="744.35" y1="233.2" x2="744.35" y2="258.3" stroke="#808080" stroke-width="1"/><rect x="741.05" y="236.8" width="6.6" height="2.30" fill="#22ae4f"/><line x1="753.60" y1="233.2" x2="753.60" y2="253.1" stroke="#808080" stroke-width="1"/><rect x="750.30" y="237.4" width="6.6" height="12.60" fill="#e8393e"/><line x1="762.84" y1="239.5" x2="762.84" y2="257.7" stroke="#808080" stroke-width="1"/><rect x="759.54" y="250.6" width="6.6" height="2.10" fill="#e8393e"/><line x1="772.09" y1="243.7" x2="772.09" y2="262.5" stroke="#808080" stroke-width="1"/><rect x="768.79" y="250.6" width="6.6" height="2.90" fill="#e8393e"/><line x1="781.34" y1="252.1" x2="781.34" y2="277.2" stroke="#808080" stroke-width="1"/><rect x="778.04" y="255.0" width="6.6" height="10.60" fill="#e8393e"/><line x1="790.59" y1="251.5" x2="790.59" y2="267.6" stroke="#808080" stroke-width="1"/><rect x="787.29" y="256.3" width="6.6" height="7.80" fill="#22ae4f"/><line x1="799.84" y1="249.4" x2="799.84" y2="269.7" stroke="#808080" stroke-width="1"/><rect x="796.54" y="254.2" width="6.6" height="12.60" fill="#e8393e"/><line x1="809.08" y1="266.8" x2="809.08" y2="291.9" stroke="#808080" stroke-width="1"/><rect x="805.78" y="266.8" width="6.6" height="23.00" fill="#e8393e"/><line x1="818.33" y1="284.4" x2="818.33" y2="318.5" stroke="#808080" stroke-width="1"/><rect x="815.03" y="284.4" width="6.6" height="31.30" fill="#e8393e"/><line x1="827.58" y1="308.6" x2="827.58" y2="327.4" stroke="#808080" stroke-width="1"/><rect x="824.28" y="311.1" width="6.6" height="11.10" fill="#e8393e"/><line x1="836.83" y1="311.1" x2="836.83" y2="327.9" stroke="#808080" stroke-width="1"/><rect x="833.53" y="316.4" width="6.6" height="2.10" fill="#22ae4f"/><line x1="846.08" y1="305.9" x2="846.08" y2="322.6" stroke="#808080" stroke-width="1"/><rect x="842.78" y="310.1" width="6.6" height="5.20" fill="#22ae4f"/><line x1="855.32" y1="286.4" x2="855.32" y2="309.0" stroke="#808080" stroke-width="1"/><rect x="852.02" y="293.3" width="6.6" height="14.10" fill="#22ae4f"/><line x1="864.57" y1="285.0" x2="864.57" y2="297.5" stroke="#808080" stroke-width="1"/><rect x="861.27" y="289.2" width="6.6" height="5.60" fill="#22ae4f"/><line x1="873.82" y1="264.4" x2="873.82" y2="285.6" stroke="#808080" stroke-width="1"/><rect x="870.52" y="273.0" width="6.6" height="12.60" fill="#22ae4f"/><line x1="883.07" y1="263.4" x2="883.07" y2="282.9" stroke="#808080" stroke-width="1"/><rect x="879.77" y="268.2" width="6.6" height="8.40" fill="#e8393e"/><line x1="892.32" y1="272.4" x2="892.32" y2="296.5" stroke="#808080" stroke-width="1"/><rect x="889.02" y="279.1" width="6.6" height="13.60" fill="#e8393e"/><line x1="901.56" y1="288.5" x2="901.56" y2="304.4" stroke="#808080" stroke-width="1"/><rect x="898.26" y="294.0" width="6.6" height="8.80" fill="#e8393e"/><line x1="910.81" y1="298.6" x2="910.81" y2="313.6" stroke="#808080" stroke-width="1"/><rect x="907.51" y="303.2" width="6.6" height="8.30" fill="#e8393e"/><line x1="920.06" y1="308.0" x2="920.06" y2="328.8" stroke="#808080" stroke-width="1"/><rect x="916.76" y="312.2" width="6.6" height="1.20" fill="#22ae4f"/><line x1="929.31" y1="293.3" x2="929.31" y2="313.6" stroke="#808080" stroke-width="1"/><rect x="926.01" y="294.0" width="6.6" height="4.20" fill="#e8393e"/><line x1="938.56" y1="294.8" x2="938.56" y2="308.6" stroke="#808080" stroke-width="1"/><rect x="935.26" y="296.9" width="6.6" height="10.00" fill="#e8393e"/><line x1="947.80" y1="282.9" x2="947.80" y2="311.1" stroke="#808080" stroke-width="1"/><rect x="944.50" y="287.1" width="6.6" height="18.80" fill="#22ae4f"/><line x1="957.05" y1="271.0" x2="957.05" y2="290.6" stroke="#808080" stroke-width="1"/><rect x="953.75" y="281.4" width="6.6" height="3.00" fill="#22ae4f"/><line x1="966.30" y1="271.8" x2="966.30" y2="292.4" stroke="#808080" stroke-width="1"/><rect x="963.00" y="272.7" width="6.6" height="9.30" fill="#e8393e"/><line x1="975.55" y1="250.7" x2="975.55" y2="310.7" stroke="#808080" stroke-width="1"/><rect x="972.25" y="279.6" width="6.6" height="17.70" fill="#e8393e"/><line x1="984.80" y1="293.2" x2="984.80" y2="310.7" stroke="#808080" stroke-width="1"/><rect x="981.50" y="294.6" width="6.6" height="6.90" fill="#e8393e"/><line x1="994.04" y1="291.1" x2="994.04" y2="308.2" stroke="#808080" stroke-width="1"/><rect x="990.74" y="296.1" width="6.6" height="4.20" fill="#22ae4f"/><line x1="1003.29" y1="281.0" x2="1003.29" y2="305.7" stroke="#808080" stroke-width="1"/><rect x="999.99" y="295.3" width="6.6" height="9.20" fill="#e8393e"/><line x1="1012.54" y1="274.7" x2="1012.54" y2="305.7" stroke="#808080" stroke-width="1"/><rect x="1009.24" y="283.1" width="6.6" height="22.00" fill="#22ae4f"/><line x1="1021.79" y1="275.8" x2="1021.79" y2="304.0" stroke="#808080" stroke-width="1"/><rect x="1018.49" y="277.9" width="6.6" height="25.10" fill="#e8393e"/><line x1="1031.04" y1="285.2" x2="1031.04" y2="312.0" stroke="#808080" stroke-width="1"/><rect x="1027.74" y="300.9" width="6.6" height="9.80" fill="#e8393e"/><line x1="1040.28" y1="282.7" x2="1040.28" y2="309.9" stroke="#808080" stroke-width="1"/><rect x="1036.98" y="287.7" width="6.6" height="20.90" fill="#22ae4f"/><line x1="1049.53" y1="246.5" x2="1049.53" y2="289.0" stroke="#808080" stroke-width="1"/><rect x="1046.23" y="250.1" width="6.6" height="37.20" fill="#22ae4f"/><path d="M555.9,142.9 A3.5,3.5 0 0 1 562.9,142.9" fill="none" stroke="#55c077" stroke-width="1"/><path d="M916.6,330.3 A3.5,3.5 0 0 0 923.6,330.3" fill="none" stroke="#55c077" stroke-width="1"/></g><g clip-path="url(#rc)"><polyline points="4.5,430.4 13.8,429.3 23.0,433.1 32.3,434.6 41.5,435.7 50.7,436.6 60.0,435.3 69.2,433.4 78.5,432.5 87.7,430.8 97.0,427.4 106.2,427.4 115.5,426.3 124.7,423.5 134.0,423.1 143.2,425.3 152.5,426.3 161.7,428.2 171.0,430.1 180.2,430.4 189.5,430.1 198.7,427.8 208.0,424.0 217.2,421.8 226.5,416.1 235.7,410.5 245.0,408.0 254.2,408.0 263.5,410.8 272.7,413.7 281.9,415.7 291.2,414.2 300.4,414.0 309.7,410.5 318.9,412.7 328.2,415.0 337.4,417.4 346.7,418.0 355.9,419.5 365.2,419.9 374.4,419.9 383.7,422.1 392.9,427.8 402.2,431.6 411.4,433.8 420.7,436.3 429.9,437.2 439.2,435.3 448.4,431.6 457.7,431.2 466.9,428.7 476.2,423.7 485.4,418.8 494.7,409.9 503.9,399.5 513.1,390.5 522.4,386.7 531.6,383.0 540.9,380.7 550.1,378.8 559.4,376.0 568.6,376.6 577.9,381.1 587.1,386.0 596.4,390.1 605.6,395.4 614.9,394.5 624.1,395.0 633.4,393.9 642.6,393.9 651.9,396.7 661.1,401.4 670.4,403.7 679.6,409.9 688.9,415.0 698.1,416.5 707.4,417.1 716.6,417.4 725.9,416.5 735.1,416.5 744.3,416.9 753.6,417.4 762.8,417.4 772.1,418.8 781.3,420.6 790.6,421.8 799.8,423.1 809.1,426.3 818.3,430.6 827.6,435.0 836.8,439.1 846.1,441.4 855.3,439.1 864.6,435.0 873.8,427.8 883.1,422.1 892.3,419.3 901.6,419.9 910.8,421.2 920.1,425.0 929.3,426.3 938.6,426.9 947.8,423.7 957.1,418.4 966.3,414.6 975.5,414.0 984.8,413.1 994.0,413.7 1003.3,416.1 1012.5,415.9 1021.8,415.9 1031.0,416.1 1040.3,414.2 1049.5,408.0" fill="none" stroke="#f5a068" stroke-width="1.2" stroke-linejoin="round" stroke-linecap="butt"/><clipPath id="ra"><rect x="0" y="350" width="1056" height="17.45"/></clipPath><clipPath id="rm"><rect x="0" y="367.45" width="1056" height="77.90"/></clipPath><clipPath id="rb"><rect x="0" y="445.35" width="1056" height="20"/></clipPath><g clip-path="url(#rm)"><polyline points="4.5,437.2 13.8,434.8 23.0,439.5 32.3,435.0 41.5,436.3 50.7,439.5 60.0,428.7 69.2,429.3 78.5,431.2 87.7,425.9 97.0,421.2 106.2,431.0 115.5,425.0 124.7,413.5 134.0,425.0 143.2,433.4 152.5,435.3 161.7,435.3 171.0,421.8 180.2,426.9 189.5,434.0 198.7,421.2 208.0,415.6 217.2,411.2 226.5,396.3 235.7,405.2 245.0,411.2 254.2,413.7 263.5,428.2 272.7,412.2 281.9,413.7 291.2,403.7 300.4,412.7 309.7,412.2 318.9,425.0 328.2,423.7 337.4,414.6 346.7,415.2 355.9,419.3 365.2,425.5 374.4,424.4 383.7,428.2 392.9,440.0 402.2,441.9 411.4,435.0 420.7,436.8 429.9,433.1 439.2,430.6 448.4,423.5 457.7,431.2 466.9,426.9 476.2,407.1 485.4,406.1 494.7,382.2 503.9,376.6 513.1,381.1 522.4,389.8 531.6,384.1 540.9,372.8 550.1,367.6 559.4,364.7 568.6,394.8 577.9,405.2 587.1,396.2 596.4,392.4 605.6,389.2 614.9,389.2 624.1,408.0 633.4,390.5 642.6,390.7 651.9,404.3 661.1,414.6 670.4,416.1 679.6,422.1 688.9,416.1 698.1,413.3 707.4,416.5 716.6,420.6 725.9,414.0 735.1,418.0 744.3,414.2 753.6,420.3 762.8,420.8 772.1,421.4 781.3,426.9 790.6,420.6 799.8,425.5 809.1,435.3 818.3,444.7 827.6,446.6 836.8,441.4 846.1,437.2 855.3,425.0 864.6,422.1 873.8,411.8 883.1,413.7 892.3,422.1 901.6,426.9 910.8,431.2 920.1,431.6 929.3,420.8 938.6,425.5 947.8,410.8 957.1,407.1 966.3,408.0 975.5,417.4 984.8,420.3 994.0,415.6 1003.3,421.2 1012.5,405.2 1021.8,417.4 1031.0,421.2 1040.3,404.3 1049.5,387.3" fill="none" stroke="#26ad52" stroke-width="1.3" stroke-linejoin="round" stroke-linecap="butt"/></g><g clip-path="url(#ra)"><polyline points="4.5,437.2 13.8,434.8 23.0,439.5 32.3,435.0 41.5,436.3 50.7,439.5 60.0,428.7 69.2,429.3 78.5,431.2 87.7,425.9 97.0,421.2 106.2,431.0 115.5,425.0 124.7,413.5 134.0,425.0 143.2,433.4 152.5,435.3 161.7,435.3 171.0,421.8 180.2,426.9 189.5,434.0 198.7,421.2 208.0,415.6 217.2,411.2 226.5,396.3 235.7,405.2 245.0,411.2 254.2,413.7 263.5,428.2 272.7,412.2 281.9,413.7 291.2,403.7 300.4,412.7 309.7,412.2 318.9,425.0 328.2,423.7 337.4,414.6 346.7,415.2 355.9,419.3 365.2,425.5 374.4,424.4 383.7,428.2 392.9,440.0 402.2,441.9 411.4,435.0 420.7,436.8 429.9,433.1 439.2,430.6 448.4,423.5 457.7,431.2 466.9,426.9 476.2,407.1 485.4,406.1 494.7,382.2 503.9,376.6 513.1,381.1 522.4,389.8 531.6,384.1 540.9,372.8 550.1,367.6 559.4,364.7 568.6,394.8 577.9,405.2 587.1,396.2 596.4,392.4 605.6,389.2 614.9,389.2 624.1,408.0 633.4,390.5 642.6,390.7 651.9,404.3 661.1,414.6 670.4,416.1 679.6,422.1 688.9,416.1 698.1,413.3 707.4,416.5 716.6,420.6 725.9,414.0 735.1,418.0 744.3,414.2 753.6,420.3 762.8,420.8 772.1,421.4 781.3,426.9 790.6,420.6 799.8,425.5 809.1,435.3 818.3,444.7 827.6,446.6 836.8,441.4 846.1,437.2 855.3,425.0 864.6,422.1 873.8,411.8 883.1,413.7 892.3,422.1 901.6,426.9 910.8,431.2 920.1,431.6 929.3,420.8 938.6,425.5 947.8,410.8 957.1,407.1 966.3,408.0 975.5,417.4 984.8,420.3 994.0,415.6 1003.3,421.2 1012.5,405.2 1021.8,417.4 1031.0,421.2 1040.3,404.3 1049.5,387.3" fill="none" stroke="#2030f0" stroke-width="1.3" stroke-linejoin="round" stroke-linecap="butt"/></g><g clip-path="url(#rb)"><polyline points="4.5,437.2 13.8,434.8 23.0,439.5 32.3,435.0 41.5,436.3 50.7,439.5 60.0,428.7 69.2,429.3 78.5,431.2 87.7,425.9 97.0,421.2 106.2,431.0 115.5,425.0 124.7,413.5 134.0,425.0 143.2,433.4 152.5,435.3 161.7,435.3 171.0,421.8 180.2,426.9 189.5,434.0 198.7,421.2 208.0,415.6 217.2,411.2 226.5,396.3 235.7,405.2 245.0,411.2 254.2,413.7 263.5,428.2 272.7,412.2 281.9,413.7 291.2,403.7 300.4,412.7 309.7,412.2 318.9,425.0 328.2,423.7 337.4,414.6 346.7,415.2 355.9,419.3 365.2,425.5 374.4,424.4 383.7,428.2 392.9,440.0 402.2,441.9 411.4,435.0 420.7,436.8 429.9,433.1 439.2,430.6 448.4,423.5 457.7,431.2 466.9,426.9 476.2,407.1 485.4,406.1 494.7,382.2 503.9,376.6 513.1,381.1 522.4,389.8 531.6,384.1 540.9,372.8 550.1,367.6 559.4,364.7 568.6,394.8 577.9,405.2 587.1,396.2 596.4,392.4 605.6,389.2 614.9,389.2 624.1,408.0 633.4,390.5 642.6,390.7 651.9,404.3 661.1,414.6 670.4,416.1 679.6,422.1 688.9,416.1 698.1,413.3 707.4,416.5 716.6,420.6 725.9,414.0 735.1,418.0 744.3,414.2 753.6,420.3 762.8,420.8 772.1,421.4 781.3,426.9 790.6,420.6 799.8,425.5 809.1,435.3 818.3,444.7 827.6,446.6 836.8,441.4 846.1,437.2 855.3,425.0 864.6,422.1 873.8,411.8 883.1,413.7 892.3,422.1 901.6,426.9 910.8,431.2 920.1,431.6 929.3,420.8 938.6,425.5 947.8,410.8 957.1,407.1 966.3,408.0 975.5,417.4 984.8,420.3 994.0,415.6 1003.3,421.2 1012.5,405.2 1021.8,417.4 1031.0,421.2 1040.3,404.3 1049.5,387.3" fill="none" stroke="#f03040" stroke-width="1.3" stroke-linejoin="round" stroke-linecap="butt"/></g></g><text x="4.9" y="25.2" font-size="7.0" fill="#222" stroke="#222" stroke-width="0.22" textLength="109.6" lengthAdjust="spacingAndGlyphs">01/23/2026 Wheat (ZWN26) [CBOT]</text><text x="117.1" y="25.2" font-size="7.0" fill="#aaa" stroke="#aaa" stroke-width="0.22" textLength="4.8" lengthAdjust="spacingAndGlyphs">O</text><text x="122.7" y="25.2" font-size="7.0" fill="#2fb457" stroke="#2fb457" stroke-width="0.22" textLength="18.4" lengthAdjust="spacingAndGlyphs">539-0</text><text x="143" y="25.2" font-size="7.0" fill="#aaa" stroke="#aaa" stroke-width="0.22" textLength="3.9" lengthAdjust="spacingAndGlyphs">H</text><text x="147.6" y="25.2" font-size="7.0" fill="#2fb457" stroke="#2fb457" stroke-width="0.22" textLength="18.1" lengthAdjust="spacingAndGlyphs">552-2</text><text x="168.5" y="25.2" font-size="7.0" fill="#aaa" stroke="#aaa" stroke-width="0.22" textLength="2.4" lengthAdjust="spacingAndGlyphs">L</text><text x="171.5" y="25.2" font-size="7.0" fill="#2fb457" stroke="#2fb457" stroke-width="0.22" textLength="18.4" lengthAdjust="spacingAndGlyphs">538-4</text><text x="192.3" y="25.2" font-size="7.0" fill="#aaa" stroke="#aaa" stroke-width="0.22" textLength="3.8" lengthAdjust="spacingAndGlyphs">C</text><text x="197" y="25.2" font-size="7.0" fill="#2fb457" stroke="#2fb457" stroke-width="0.22" textLength="17.9" lengthAdjust="spacingAndGlyphs">551-0</text><text x="217.3" y="25.2" font-size="7.0" fill="#aaa" stroke="#aaa" stroke-width="0.22" textLength="4.4" lengthAdjust="spacingAndGlyphs">Δ</text><text x="222.4" y="25.2" font-size="7.0" fill="#2fb457" stroke="#2fb457" stroke-width="0.22" textLength="44.7" lengthAdjust="spacingAndGlyphs">+12-0 (+2.23%)</text><text x="269.7" y="25.2" font-size="7.0" fill="#222" stroke="#222" stroke-width="0.22" textLength="84.5" lengthAdjust="spacingAndGlyphs">Moving Average (20, Close, 0)</text><text x="357.6" y="25.2" font-size="7.0" fill="#222" stroke="#222" stroke-width="0.22" textLength="36.3" lengthAdjust="spacingAndGlyphs">(20, Close, 0)</text><text x="397.1" y="25.2" font-size="7.0" fill="#9fd3e3" stroke="#9fd3e3" stroke-width="0.22" textLength="17.5" lengthAdjust="spacingAndGlyphs">537-2</text><text x="416.9" y="25.2" font-size="7.0" fill="#222" stroke="#222" stroke-width="0.22" textLength="84.5" lengthAdjust="spacingAndGlyphs">Moving Average (50, Close, 0)</text><text x="504.9" y="25.2" font-size="7.0" fill="#222" stroke="#222" stroke-width="0.22" textLength="36.0" lengthAdjust="spacingAndGlyphs">(50, Close, 0)</text><text x="544.5" y="25.2" font-size="7.0" fill="#4ac46a" stroke="#4ac46a" stroke-width="0.22" textLength="17.8" lengthAdjust="spacingAndGlyphs">546-4</text><text x="564.8" y="25.2" font-size="7.0" fill="#222" stroke="#222" stroke-width="0.22" textLength="88.6" lengthAdjust="spacingAndGlyphs">Moving Average (100, Close, 0)</text><text x="656.7" y="25.2" font-size="7.0" fill="#222" stroke="#222" stroke-width="0.22" textLength="40.5" lengthAdjust="spacingAndGlyphs">(100, Close, 0)</text><text x="699.7" y="25.2" font-size="7.0" fill="#ff40d2" stroke="#ff40d2" stroke-width="0.22" textLength="17.5" lengthAdjust="spacingAndGlyphs">552-0</text><text x="719.9" y="25.2" font-size="7.0" fill="#222" stroke="#222" stroke-width="0.22" textLength="88.6" lengthAdjust="spacingAndGlyphs">Moving Average (200, Close, 0)</text><text x="811.9" y="25.2" font-size="7.0" fill="#222" stroke="#222" stroke-width="0.22" textLength="40.4" lengthAdjust="spacingAndGlyphs">(200, Close, 0)</text><text x="857" y="25.2" font-size="7.0" fill="#222" stroke="#222" stroke-width="0.22" textLength="15.8" lengthAdjust="spacingAndGlyphs">576-4</text><text x="5.6" y="364.9" font-size="7.0" fill="#222" stroke="#222" stroke-width="0.22" textLength="115.0" lengthAdjust="spacingAndGlyphs">Relative Strength Index (RSI) (14, MA, 5)</text><text x="123.6" y="364.9" font-size="7.0" fill="#222" stroke="#222" stroke-width="0.22" textLength="31.4" lengthAdjust="spacingAndGlyphs">(14, MA, 5)</text><text x="157.6" y="364.9" font-size="7.0" fill="#1fa64b" stroke="#1fa64b" stroke-width="0.22" textLength="16.7" lengthAdjust="spacingAndGlyphs">59.73</text><text x="176.7" y="364.9" font-size="7.0" fill="#f49a5e" stroke="#f49a5e" stroke-width="0.22" textLength="16.6" lengthAdjust="spacingAndGlyphs">49.40</text><text x="1061" y="37.4" font-size="6.0" fill="#2a2a2a" stroke="#2a2a2a" stroke-width="0.12" textLength="15" lengthAdjust="spacingAndGlyphs">620-0</text><text x="1061" y="68.5" font-size="6.0" fill="#2a2a2a" stroke="#2a2a2a" stroke-width="0.12" textLength="15" lengthAdjust="spacingAndGlyphs">610-0</text><text x="1061" y="99.6" font-size="6.0" fill="#2a2a2a" stroke="#2a2a2a" stroke-width="0.12" textLength="15" lengthAdjust="spacingAndGlyphs">600-0</text><text x="1061" y="130.7" font-size="6.0" fill="#2a2a2a" stroke="#2a2a2a" stroke-width="0.12" textLength="15" lengthAdjust="spacingAndGlyphs">590-0</text><text x="1061" y="161.8" font-size="6.0" fill="#2a2a2a" stroke="#2a2a2a" stroke-width="0.12" textLength="15" lengthAdjust="spacingAndGlyphs">580-0</text><text x="1061" y="192.9" font-size="6.0" fill="#2a2a2a" stroke="#2a2a2a" stroke-width="0.12" textLength="15" lengthAdjust="spacingAndGlyphs">570-0</text><text x="1061" y="224.0" font-size="6.0" fill="#2a2a2a" stroke="#2a2a2a" stroke-width="0.12" textLength="15" lengthAdjust="spacingAndGlyphs">560-0</text><text x="1061" y="255.0" font-size="6.0" fill="#2a2a2a" stroke="#2a2a2a" stroke-width="0.12" textLength="15" lengthAdjust="spacingAndGlyphs">550-0</text><text x="1061" y="286.1" font-size="6.0" fill="#2a2a2a" stroke="#2a2a2a" stroke-width="0.12" textLength="15" lengthAdjust="spacingAndGlyphs">540-0</text><text x="1061" y="317.2" font-size="6.0" fill="#2a2a2a" stroke="#2a2a2a" stroke-width="0.12" textLength="15" lengthAdjust="spacingAndGlyphs">530-0</text><text x="1061" y="348.3" font-size="6.0" fill="#2a2a2a" stroke="#2a2a2a" stroke-width="0.12" textLength="15" lengthAdjust="spacingAndGlyphs">520-0</text><text x="1061.5" y="369.55" font-size="6.0" fill="#2a2a2a" stroke="#2a2a2a" stroke-width="0.12" textLength="13.4" lengthAdjust="spacingAndGlyphs">70.00</text><text x="1061.5" y="427.98" font-size="6.0" fill="#2a2a2a" stroke="#2a2a2a" stroke-width="0.12" textLength="13.4" lengthAdjust="spacingAndGlyphs">40.00</text><text x="1061.5" y="447.45" font-size="6.0" fill="#2a2a2a" stroke="#2a2a2a" stroke-width="0.12" textLength="13.4" lengthAdjust="spacingAndGlyphs">30.00</text><rect x="1056" y="166.17" width="21.4" height="9.4" fill="#000"/><text x="1060.8" y="172.97" font-size="6.0" font-weight="bold" fill="#fff" textLength="14.0" lengthAdjust="spacingAndGlyphs">576-4</text><rect x="1056" y="242.33" width="21.4" height="9.4" fill="#ff33cc"/><text x="1060.8" y="249.13" font-size="6.0" font-weight="bold" fill="#fff" textLength="14.0" lengthAdjust="spacingAndGlyphs">552-0</text><rect x="1056" y="245.44" width="21.4" height="9.4" fill="#19ac4b"/><text x="1060.8" y="252.24" font-size="6.0" font-weight="bold" fill="#fff" textLength="14.0" lengthAdjust="spacingAndGlyphs">551-0</text><rect x="1056" y="259.42" width="21.4" height="9.4" fill="#52cc72"/><text x="1060.8" y="266.22" font-size="6.0" font-weight="bold" fill="#111" textLength="14.0" lengthAdjust="spacingAndGlyphs">546-4</text><rect x="1056" y="288.18" width="21.4" height="9.4" fill="#c2e4ee"/><text x="1060.8" y="294.98" font-size="6.0" font-weight="bold" fill="#222" textLength="14.0" lengthAdjust="spacingAndGlyphs">537-2</text><rect x="1056" y="382.75" width="21.4" height="9.4" fill="#19ac4b"/><text x="1060.8" y="389.55" font-size="6.0" font-weight="bold" fill="#fff" textLength="13.8" lengthAdjust="spacingAndGlyphs">59.73</text><rect x="1056" y="402.87" width="21.4" height="9.4" fill="#f2924a"/><text x="1060.8" y="409.67" font-size="6.0" font-weight="bold" fill="#222" textLength="13.8" lengthAdjust="spacingAndGlyphs">49.40</text><text transform="translate(41.50,463) scale(0.83,1)" x="0" y="0" font-size="6.6" fill="#2a2a2a" stroke="#2a2a2a" stroke-width="0.15" text-anchor="middle">Aug 18</text><text transform="translate(87.74,463) scale(0.83,1)" x="0" y="0" font-size="6.6" fill="#2a2a2a" stroke="#2a2a2a" stroke-width="0.15" text-anchor="middle">Aug 25</text><text transform="translate(133.98,463) scale(0.83,1)" x="0" y="0" font-size="6.6" fill="#2a2a2a" stroke="#2a2a2a" stroke-width="0.15" text-anchor="middle">Sep 2</text><text transform="translate(170.97,463) scale(0.83,1)" x="0" y="0" font-size="6.6" fill="#2a2a2a" stroke="#2a2a2a" stroke-width="0.15" text-anchor="middle">Sep 8</text><text transform="translate(217.21,463) scale(0.83,1)" x="0" y="0" font-size="6.6" fill="#2a2a2a" stroke="#2a2a2a" stroke-width="0.15" text-anchor="middle">Sep 15</text><text transform="translate(263.45,463) scale(0.83,1)" x="0" y="0" font-size="6.6" fill="#2a2a2a" stroke="#2a2a2a" stroke-width="0.15" text-anchor="middle">Sep 22</text><text transform="translate(309.69,463) scale(0.83,1)" x="0" y="0" font-size="6.6" fill="#2a2a2a" stroke="#2a2a2a" stroke-width="0.15" text-anchor="middle">Sep 29</text><text transform="translate(355.93,463) scale(0.83,1)" x="0" y="0" font-size="6.6" fill="#2a2a2a" stroke="#2a2a2a" stroke-width="0.15" text-anchor="middle">Oct 6</text><text transform="translate(402.17,463) scale(0.83,1)" x="0" y="0" font-size="6.6" fill="#2a2a2a" stroke="#2a2a2a" stroke-width="0.15" text-anchor="middle">Oct 13</text><text transform="translate(448.41,463) scale(0.83,1)" x="0" y="0" font-size="6.6" fill="#2a2a2a" stroke="#2a2a2a" stroke-width="0.15" text-anchor="middle">Oct 20</text><text transform="translate(494.65,463) scale(0.83,1)" x="0" y="0" font-size="6.6" fill="#2a2a2a" stroke="#2a2a2a" stroke-width="0.15" text-anchor="middle">Oct 27</text><text transform="translate(540.89,463) scale(0.83,1)" x="0" y="0" font-size="6.6" fill="#2a2a2a" stroke="#2a2a2a" stroke-width="0.15" text-anchor="middle">Nov 3</text><text transform="translate(587.13,463) scale(0.83,1)" x="0" y="0" font-size="6.6" fill="#2a2a2a" stroke="#2a2a2a" stroke-width="0.15" text-anchor="middle">Nov 10</text><text transform="translate(633.37,463) scale(0.83,1)" x="0" y="0" font-size="6.6" fill="#2a2a2a" stroke="#2a2a2a" stroke-width="0.15" text-anchor="middle">Nov 17</text><text transform="translate(679.61,463) scale(0.83,1)" x="0" y="0" font-size="6.6" fill="#2a2a2a" stroke="#2a2a2a" stroke-width="0.15" text-anchor="middle">Nov 24</text><text transform="translate(716.60,463) scale(0.83,1)" x="0" y="0" font-size="6.6" fill="#2a2a2a" stroke="#2a2a2a" stroke-width="0.15" text-anchor="middle">Dec 1</text><text transform="translate(762.84,463) scale(0.83,1)" x="0" y="0" font-size="6.6" fill="#2a2a2a" stroke="#2a2a2a" stroke-width="0.15" text-anchor="middle">Dec 8</text><text transform="translate(809.08,463) scale(0.83,1)" x="0" y="0" font-size="6.6" fill="#2a2a2a" stroke="#2a2a2a" stroke-width="0.15" text-anchor="middle">Dec 15</text><text transform="translate(855.32,463) scale(0.83,1)" x="0" y="0" font-size="6.6" fill="#2a2a2a" stroke="#2a2a2a" stroke-width="0.15" text-anchor="middle">Dec 22</text><text transform="translate(892.32,463) scale(0.83,1)" x="0" y="0" font-size="6.6" fill="#2a2a2a" stroke="#2a2a2a" stroke-width="0.15" text-anchor="middle">Dec 29</text><text transform="translate(929.31,463) scale(0.83,1)" x="0" y="0" font-size="6.6" fill="#2a2a2a" stroke="#2a2a2a" stroke-width="0.15" text-anchor="middle">Jan 5</text><text transform="translate(975.55,463) scale(0.83,1)" x="0" y="0" font-size="6.6" fill="#2a2a2a" stroke="#2a2a2a" stroke-width="0.15" text-anchor="middle">Jan 12</text><text transform="translate(1021.79,463) scale(0.83,1)" x="0" y="0" font-size="6.6" fill="#2a2a2a" stroke="#2a2a2a" stroke-width="0.15" text-anchor="middle">Jan 20</text><text x="4.7" y="473.8" font-size="5.4" fill="#1a1a1a" stroke="#1a1a1a" stroke-width="0.2" textLength="147" lengthAdjust="spacingAndGlyphs">Generated by cmdtyView, January 25th 2026, 3:57:05 pm</text></svg></body></html>
